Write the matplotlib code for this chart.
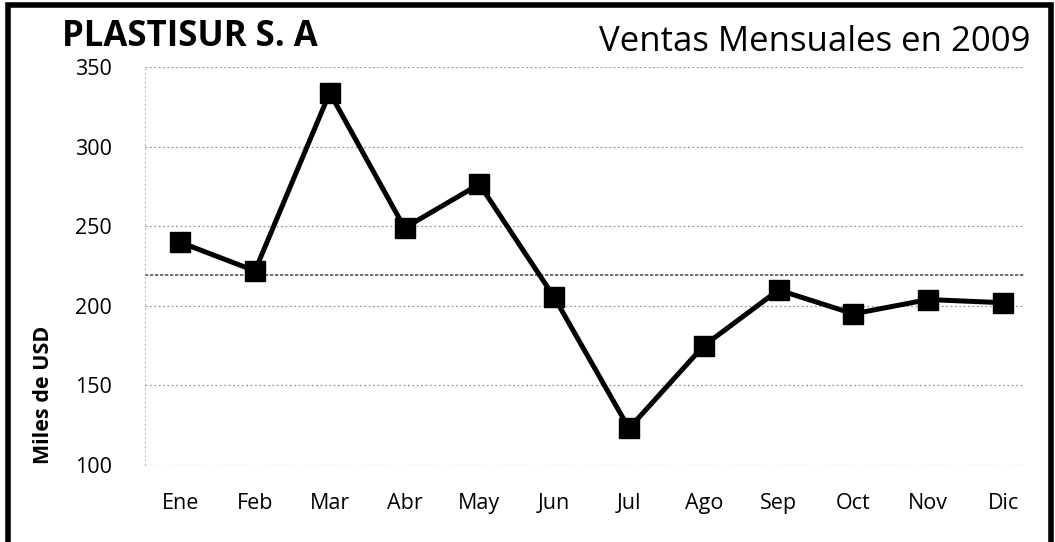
import matplotlib
matplotlib.use("Agg")
import matplotlib.pyplot as plt
from matplotlib.patches import Rectangle

months = ["Ene", "Feb", "Mar", "Abr", "May", "Jun", "Jul", "Ago", "Sep", "Oct", "Nov", "Dic"]
sales = [240, 222, 334, 249, 276.5, 205.5, 123, 175, 210, 195, 204, 202]
yticks = [100, 150, 200, 250, 300, 350]

plt.rcParams['font.family'] = ['Open Sans', 'DejaVu Sans']

fig = plt.figure(figsize=(10.55, 5.42), dpi=100)
ax = fig.add_axes([0.1374, 0.142, 0.8332, 0.734])

x = list(range(len(months)))
for v in yticks:
    ax.axhline(v, color="#9a9a9a", lw=0.9, ls=(0, (1.5, 2)), zorder=1)
avg = sum(sales) / len(sales)
ax.axhline(avg, color="#555555", lw=1.2, ls=(0, (2, 1)), zorder=1)

ax.plot(x, sales, color="black", lw=3.6, marker="s", markersize=14, zorder=3)

ax.set_xlim(-0.47, 11.28)
ax.set_ylim(100, 350)
ax.set_yticks(yticks)
ax.set_xticks(x)
ax.set_xticklabels(months)
ax.tick_params(axis="both", length=0, labelsize=15.5)
ax.tick_params(axis="x", pad=20)
ax.tick_params(axis="y", pad=24)
for s in ["top", "right", "bottom"]:
    ax.spines[s].set_visible(False)
ax.spines["left"].set_color("#bbbbbb")
ax.spines["left"].set_linestyle((0, (1, 3)))
ax.spines["left"].set_linewidth(0.8)

fig.text(0.041, 0.271, "Miles de USD", fontsize=15.5, fontweight="bold",
         rotation=90, ha="center", va="center")

fig.text(0.059, 0.932, "PLASTISUR S. A", fontsize=25, fontweight="bold", ha="left", va="center")
fig.text(0.977, 0.922, "Ventas Mensuales en 2009", fontsize=25, ha="right", va="center")

fig.patches.append(Rectangle((0.008, -0.01), 0.988, 1.0, transform=fig.transFigure,
                             fill=False, edgecolor="black", lw=4))

fig.savefig("out.png", dpi=100)
